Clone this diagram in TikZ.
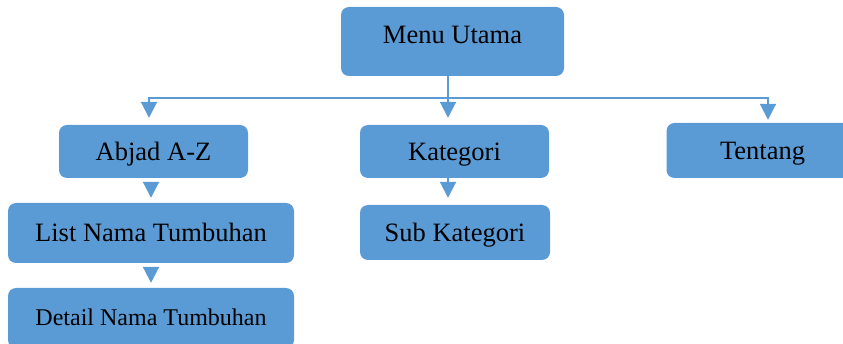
\documentclass[tikz,border=0pt]{standalone}
\usepackage{fontspec}
\setmainfont{Liberation Serif}
\usetikzlibrary{arrows.meta}
\definecolor{kotak}{HTML}{5B9BD5}

\begin{document}
\begin{tikzpicture}[x=1pt,y=-1pt,
  kotak/.style={rectangle, rounded corners=8pt, fill=kotak, draw=none, text=black,
    font=\fontsize{26.5pt}{30pt}\selectfont, text height=18pt, text depth=0pt, inner sep=0pt},
  garis/.style={draw=kotak, line width=2pt},
  panah/.style={garis, -{Triangle[width=16pt,length=16pt]}}]

 \useasboundingbox (0,0) rectangle (843,344);
 \clip (0,0) rectangle (843,344);

% les boites du menu
\node [kotak, minimum width=223pt, minimum height=69pt, text depth=13pt] (menu) at (452.5,41.5) {Menu Utama};
\node [kotak, minimum width=189pt, minimum height=53pt] (abjad) at (153.5,151.5) {Abjad A-Z};
\node [kotak, minimum width=189pt, minimum height=53pt] (kategori) at (454.5,151.5) {Kategori};
\node [kotak, minimum width=192pt, minimum height=55pt] (tentang) at (762.5,150.5) {Tentang};
\node [kotak, minimum width=286pt, minimum height=60pt] (list) at (151,233) {List Nama Tumbuhan};
\node [kotak, minimum width=190pt, minimum height=55pt] (sub) at (455,232.5) {Sub Kategori};
\node [kotak, minimum width=286pt, minimum height=60pt, font=\fontsize{24pt}{28pt}\selectfont, text height=16pt] (detail) at (151,318) {Detail Nama Tumbuhan};

\coordinate (hub) at (448,98);

% les connexions
\draw [panah, shorten >=7pt] (hub |- menu.south) -- (hub |- kategori.north);
\draw [panah, shorten >=7pt] (hub) -| ([xshift=-4.5pt]abjad.north);
\draw [panah, shorten >=3pt] (hub) -| ([xshift=5.5pt]tentang.north);
\draw [panah, shorten <=4pt, shorten >=5pt] (list.north |- abjad.south) -- (list.north);
\draw [panah, shorten <=4pt, shorten >=5pt] (detail.north |- list.south) -- (detail.north);
\draw [panah, shorten >=7pt] (hub |- kategori.south) -- (hub |- sub.north);
\end{tikzpicture}
\end{document}
